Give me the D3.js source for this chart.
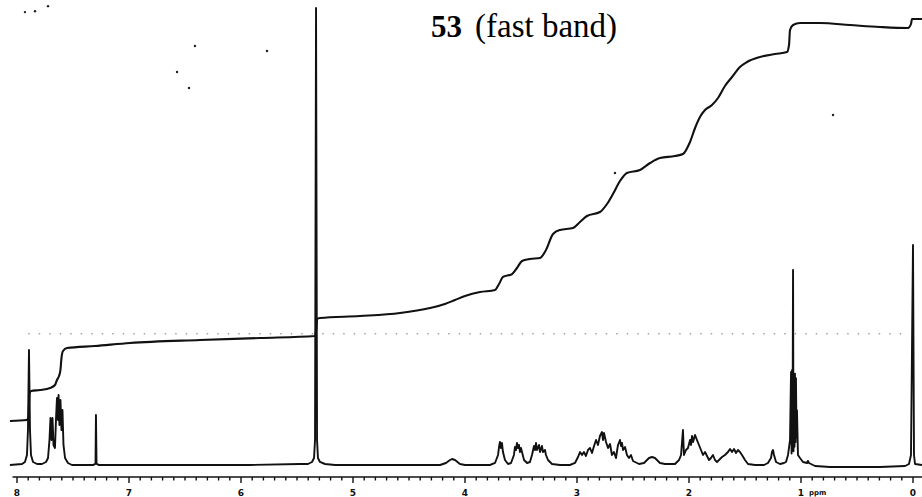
<!DOCTYPE html>
<html>
<head>
<meta charset="utf-8">
<script src="https://cdn.jsdelivr.net/npm/d3@7"></script>
<style>
    body { margin: 0; background: #fff; }
</style>
</head>
<body>
<div id="my_dataviz"></div>
<script>
// chemical shift axis (ppm)
const ppmTicks = [8, 7, 6, 5, 4, 3, 2, 1, 0]

// spectrum trace: [ppm, relative intensity]
const spectrum = [
    [8.063, 0], [7.955, 0.22], [7.929, 0.66], [7.911, 2.19], [7.902, 7.66], [7.893, 25.16], [7.884, 7.66], [7.875, 2.19], [7.857, 0.66], [7.821, 0.22],
    [7.777, 0.22], [7.741, 0.66], [7.723, 1.53], [7.710, 5.47], [7.701, 10.28], [7.692, 5.47], [7.683, 10.28], [7.674, 4.38], [7.661, 3.72], [7.652, 9.85],
    [7.643, 14.66], [7.634, 9.85], [7.629, 15.32], [7.621, 8.75], [7.612, 14.22], [7.603, 7.66], [7.594, 12.04], [7.585, 4.38], [7.571, 1.53], [7.545, 0.44], [7.509, 0],
    [7.321, 0], [7.299, 0.22], [7.295, 10.94], [7.290, 0.22], [7.268, 0],
    [6.813, 0], [5.920, 0], [5.473, 0.22], [5.402, 0.22], [5.366, 0.66], [5.348, 1.53], [5.339, 5.47], [5.330, 100], [5.321, 5.47], [5.313, 1.53], [5.295, 0.66], [5.250, 0.22], [5.161, 0],
    [4.223, 0], [4.170, 0.44], [4.134, 1.09], [4.116, 1.31], [4.089, 1.09], [4.045, 0.22], [4.000, 0],
    [3.777, 0], [3.732, 0.44], [3.705, 2.19], [3.696, 3.94], [3.688, 5.03], [3.679, 3.72], [3.670, 4.81], [3.661, 2.84], [3.643, 1.09], [3.616, 0.22],
    [3.589, 0.44], [3.563, 2.19], [3.554, 3.94], [3.545, 3.28], [3.536, 4.81], [3.527, 3.72], [3.518, 4.38], [3.509, 2.84], [3.500, 3.72], [3.491, 2.84], [3.473, 1.09], [3.446, 0.44],
    [3.420, 0.66], [3.402, 2.19], [3.384, 4.16], [3.375, 3.28], [3.366, 4.81], [3.357, 3.28], [3.339, 4.38], [3.330, 2.84], [3.313, 4.16], [3.304, 2.84], [3.286, 3.28], [3.277, 2.19], [3.259, 1.09], [3.223, 0.22], [3.152, 0],
    [3.063, 0], [3.018, 0.44], [2.991, 1.75], [2.973, 2.84], [2.955, 2.19], [2.938, 2.84], [2.920, 1.97], [2.902, 3.28], [2.884, 3.72], [2.866, 2.63],
    [2.848, 4.16], [2.830, 5.47], [2.813, 4.38], [2.795, 6.35], [2.777, 7.22], [2.768, 5.47], [2.759, 7.00], [2.741, 5.03], [2.723, 3.72], [2.705, 4.60],
    [2.688, 2.19], [2.670, 2.84], [2.652, 1.53], [2.634, 4.38], [2.616, 5.47], [2.607, 4.16], [2.598, 4.81], [2.589, 3.28], [2.571, 3.94], [2.554, 2.19],
    [2.536, 1.53], [2.518, 2.19], [2.500, 0.88], [2.464, 0.44],
    [2.446, 0.22], [2.402, 0.44], [2.357, 1.53], [2.330, 1.75], [2.304, 1.53], [2.259, 0.44], [2.214, 0.22],
    [2.125, 0.22], [2.089, 1.09], [2.071, 2.19], [2.054, 7.66], [2.045, 2.19], [2.027, 3.28], [2.009, 3.72], [1.991, 5.47], [1.982, 4.38], [1.973, 6.35],
    [1.964, 5.03], [1.946, 6.56], [1.929, 5.47], [1.911, 4.38], [1.893, 3.28], [1.875, 2.19], [1.857, 2.84], [1.839, 1.97], [1.821, 1.09], [1.804, 1.53],
    [1.786, 2.19], [1.768, 1.09], [1.750, 0.66], [1.732, 1.09], [1.705, 1.75], [1.679, 2.19], [1.652, 2.84], [1.634, 3.50], [1.616, 2.84], [1.598, 3.50],
    [1.580, 2.63], [1.563, 3.28], [1.545, 2.84], [1.527, 2.19], [1.500, 1.09], [1.473, 0.22], [1.411, 0],
    [1.330, 0], [1.295, 0.44], [1.268, 1.53], [1.259, 2.84], [1.250, 3.28], [1.241, 2.19], [1.223, 0.66], [1.188, 0.22], [1.152, 0.44],
    [1.134, 0.66], [1.116, 2.19], [1.098, 5.47], [1.089, 20.35], [1.084, 2.5], [1.080, 20.79], [1.076, 3.5], [1.071, 42.67], [1.067, 3.0], [1.063, 19.69],
    [1.058, 4.0], [1.054, 20.0], [1.049, 5.0], [1.045, 19.0], [1.040, 6.0], [1.036, 12.0], [1.027, 2.19], [1.009, 1.53], [0.982, 0.66], [0.946, 0.44],
    [0.938, 0.88], [0.929, 0.44], [0.875, -0.22], [0.741, -0.44], [0.295, -0.44], [0.071, -0.22], [0.036, 0.22], [0.018, 2.19], [0.000, 48.14],
    [-0.009, 2.19], [-0.018, 0.22], [-0.080, 0]
]

// integral trace: [ppm, relative height]
const integral = [
    [8.063, 9.63], [7.911, 9.85], [7.897, 10.72], [7.893, 13.13], [7.888, 15.54], [7.875, 16.19], [7.795, 16.41], [7.705, 16.85], [7.661, 17.51],
    [7.643, 18.60], [7.625, 19.47], [7.612, 20.79], [7.603, 23.41], [7.589, 24.95], [7.554, 25.60], [7.304, 26.04], [6.991, 26.70], [6.366, 27.35],
    [5.830, 27.79], [5.339, 28.23], [5.326, 30.42], [5.321, 31.95], [5.295, 32.17], [4.938, 32.60], [4.580, 33.26], [4.313, 34.35], [4.179, 35.23],
    [4.089, 36.11], [4.000, 36.98], [3.866, 37.86], [3.732, 38.29], [3.696, 39.61], [3.661, 41.14], [3.580, 41.79], [3.536, 43.11], [3.491, 44.64],
    [3.420, 45.08], [3.330, 45.30], [3.277, 47.05], [3.214, 50.55], [3.152, 51.42], [3.036, 51.86], [2.973, 53.17], [2.911, 54.49], [2.795, 55.36],
    [2.732, 57.11], [2.679, 59.30], [2.616, 62.14], [2.554, 63.89], [2.438, 64.55], [2.348, 66.08], [2.259, 67.18], [2.125, 67.61], [2.054, 68.05],
    [1.991, 70.68], [1.946, 73.74], [1.902, 76.15], [1.857, 77.68], [1.795, 78.77], [1.741, 80.31], [1.679, 82.93], [1.616, 84.90], [1.545, 87.09],
    [1.482, 88.18], [1.366, 89.28], [1.232, 89.93], [1.125, 90.37], [1.107, 91.90], [1.098, 95.19], [1.071, 96.28], [1.009, 96.72], [0.830, 96.72],
    [0.563, 96.28], [0.295, 95.84], [0.045, 95.62], [0.018, 96.50], [0.009, 97.59], [-0.080, 97.59]
]

// faint dotted recorder line and stray specks on the scan
const dotLevel = 28.7
const specks = [[7.929, 99.1], [7.839, 99.3], [7.723, 100.4], [6.411, 91.7], [6.571, 86.0], [6.464, 82.5], [5.768, 90.6], [2.661, 63.9], [0.714, 76.6]]

const titleBold = "53"
const titleRest = "(fast band)"

const width = 922, height = 497

const svg = d3.select("#my_dataviz")
    .append("svg")
    .attr("width", width)
    .attr("height", height)
    .style("font-family", "'Liberation Serif', 'Times New Roman', serif")

const x = d3.scaleLinear().domain([8, 0]).range([17, 913])
const y = d3.scaleLinear().domain([0, 100]).range([465, 8])

// dotted line
svg.append("line")
    .attr("x1", x(7.9)).attr("x2", x(0.1))
    .attr("y1", y(dotLevel)).attr("y2", y(dotLevel))
    .attr("stroke", "#777")
    .attr("stroke-width", 1)
    .attr("stroke-dasharray", "1.5,9")

svg.selectAll(".speck")
    .data(specks)
    .enter()
    .append("circle")
    .attr("cx", d => x(d[0]))
    .attr("cy", d => y(d[1]))
    .attr("r", 1.2)
    .attr("fill", "#222")

// spectrum
const line = d3.line()
    .x(d => x(d[0]))
    .y(d => y(d[1]))

svg.append("path")
    .datum(spectrum)
    .attr("d", line)
    .attr("fill", "none")
    .attr("stroke", "#111")
    .attr("stroke-width", 1.9)
    .attr("stroke-linejoin", "round")

// integral
svg.append("path")
    .datum(integral)
    .attr("d", line.curve(d3.curveMonotoneX))
    .attr("fill", "none")
    .attr("stroke", "#111")
    .attr("stroke-width", 2.1)

// ppm axis with 0.1 minor ticks
const axisY = 477
const minor = d3.range(80, -1, -1).map(d => d / 10)
svg.append("line")
    .attr("x1", x(8.04)).attr("x2", x(-0.08))
    .attr("y1", axisY).attr("y2", axisY)
    .attr("stroke", "#111")
    .attr("stroke-width", 1.6)
svg.selectAll(".tick")
    .data(minor)
    .enter()
    .append("line")
    .attr("x1", d => x(d)).attr("x2", d => x(d))
    .attr("y1", axisY)
    .attr("y2", d => Math.abs(d - Math.round(d)) < 0.001 ? axisY + 6 : axisY + 3.5)
    .attr("stroke", "#111")
    .attr("stroke-width", 1.4)

svg.selectAll(".tlabel")
    .data(ppmTicks)
    .enter()
    .append("text")
    .attr("x", d => x(d))
    .attr("y", 496)
    .attr("text-anchor", "middle")
    .style("font-family", "'DejaVu Sans', sans-serif")
    .style("font-weight", "bold")
    .style("font-size", "9px")
    .attr("fill", "#111")
    .text(d => d)

svg.append("text")
    .attr("x", x(1) + 8)
    .attr("y", 495)
    .style("font-family", "'DejaVu Sans', sans-serif")
    .style("font-size", "7px")
    .style("font-weight", "bold")
    .attr("fill", "#111")
    .text("ppm")

// title
const title = svg.append("text")
    .attr("x", 431)
    .attr("y", 37)
    .attr("fill", "#000")
title.append("tspan").style("font-weight", "bold").style("font-size", "31px").text(titleBold)
title.append("tspan").attr("dx", 13).style("font-size", "33px").text(titleRest)
</script>
</body>
</html>
